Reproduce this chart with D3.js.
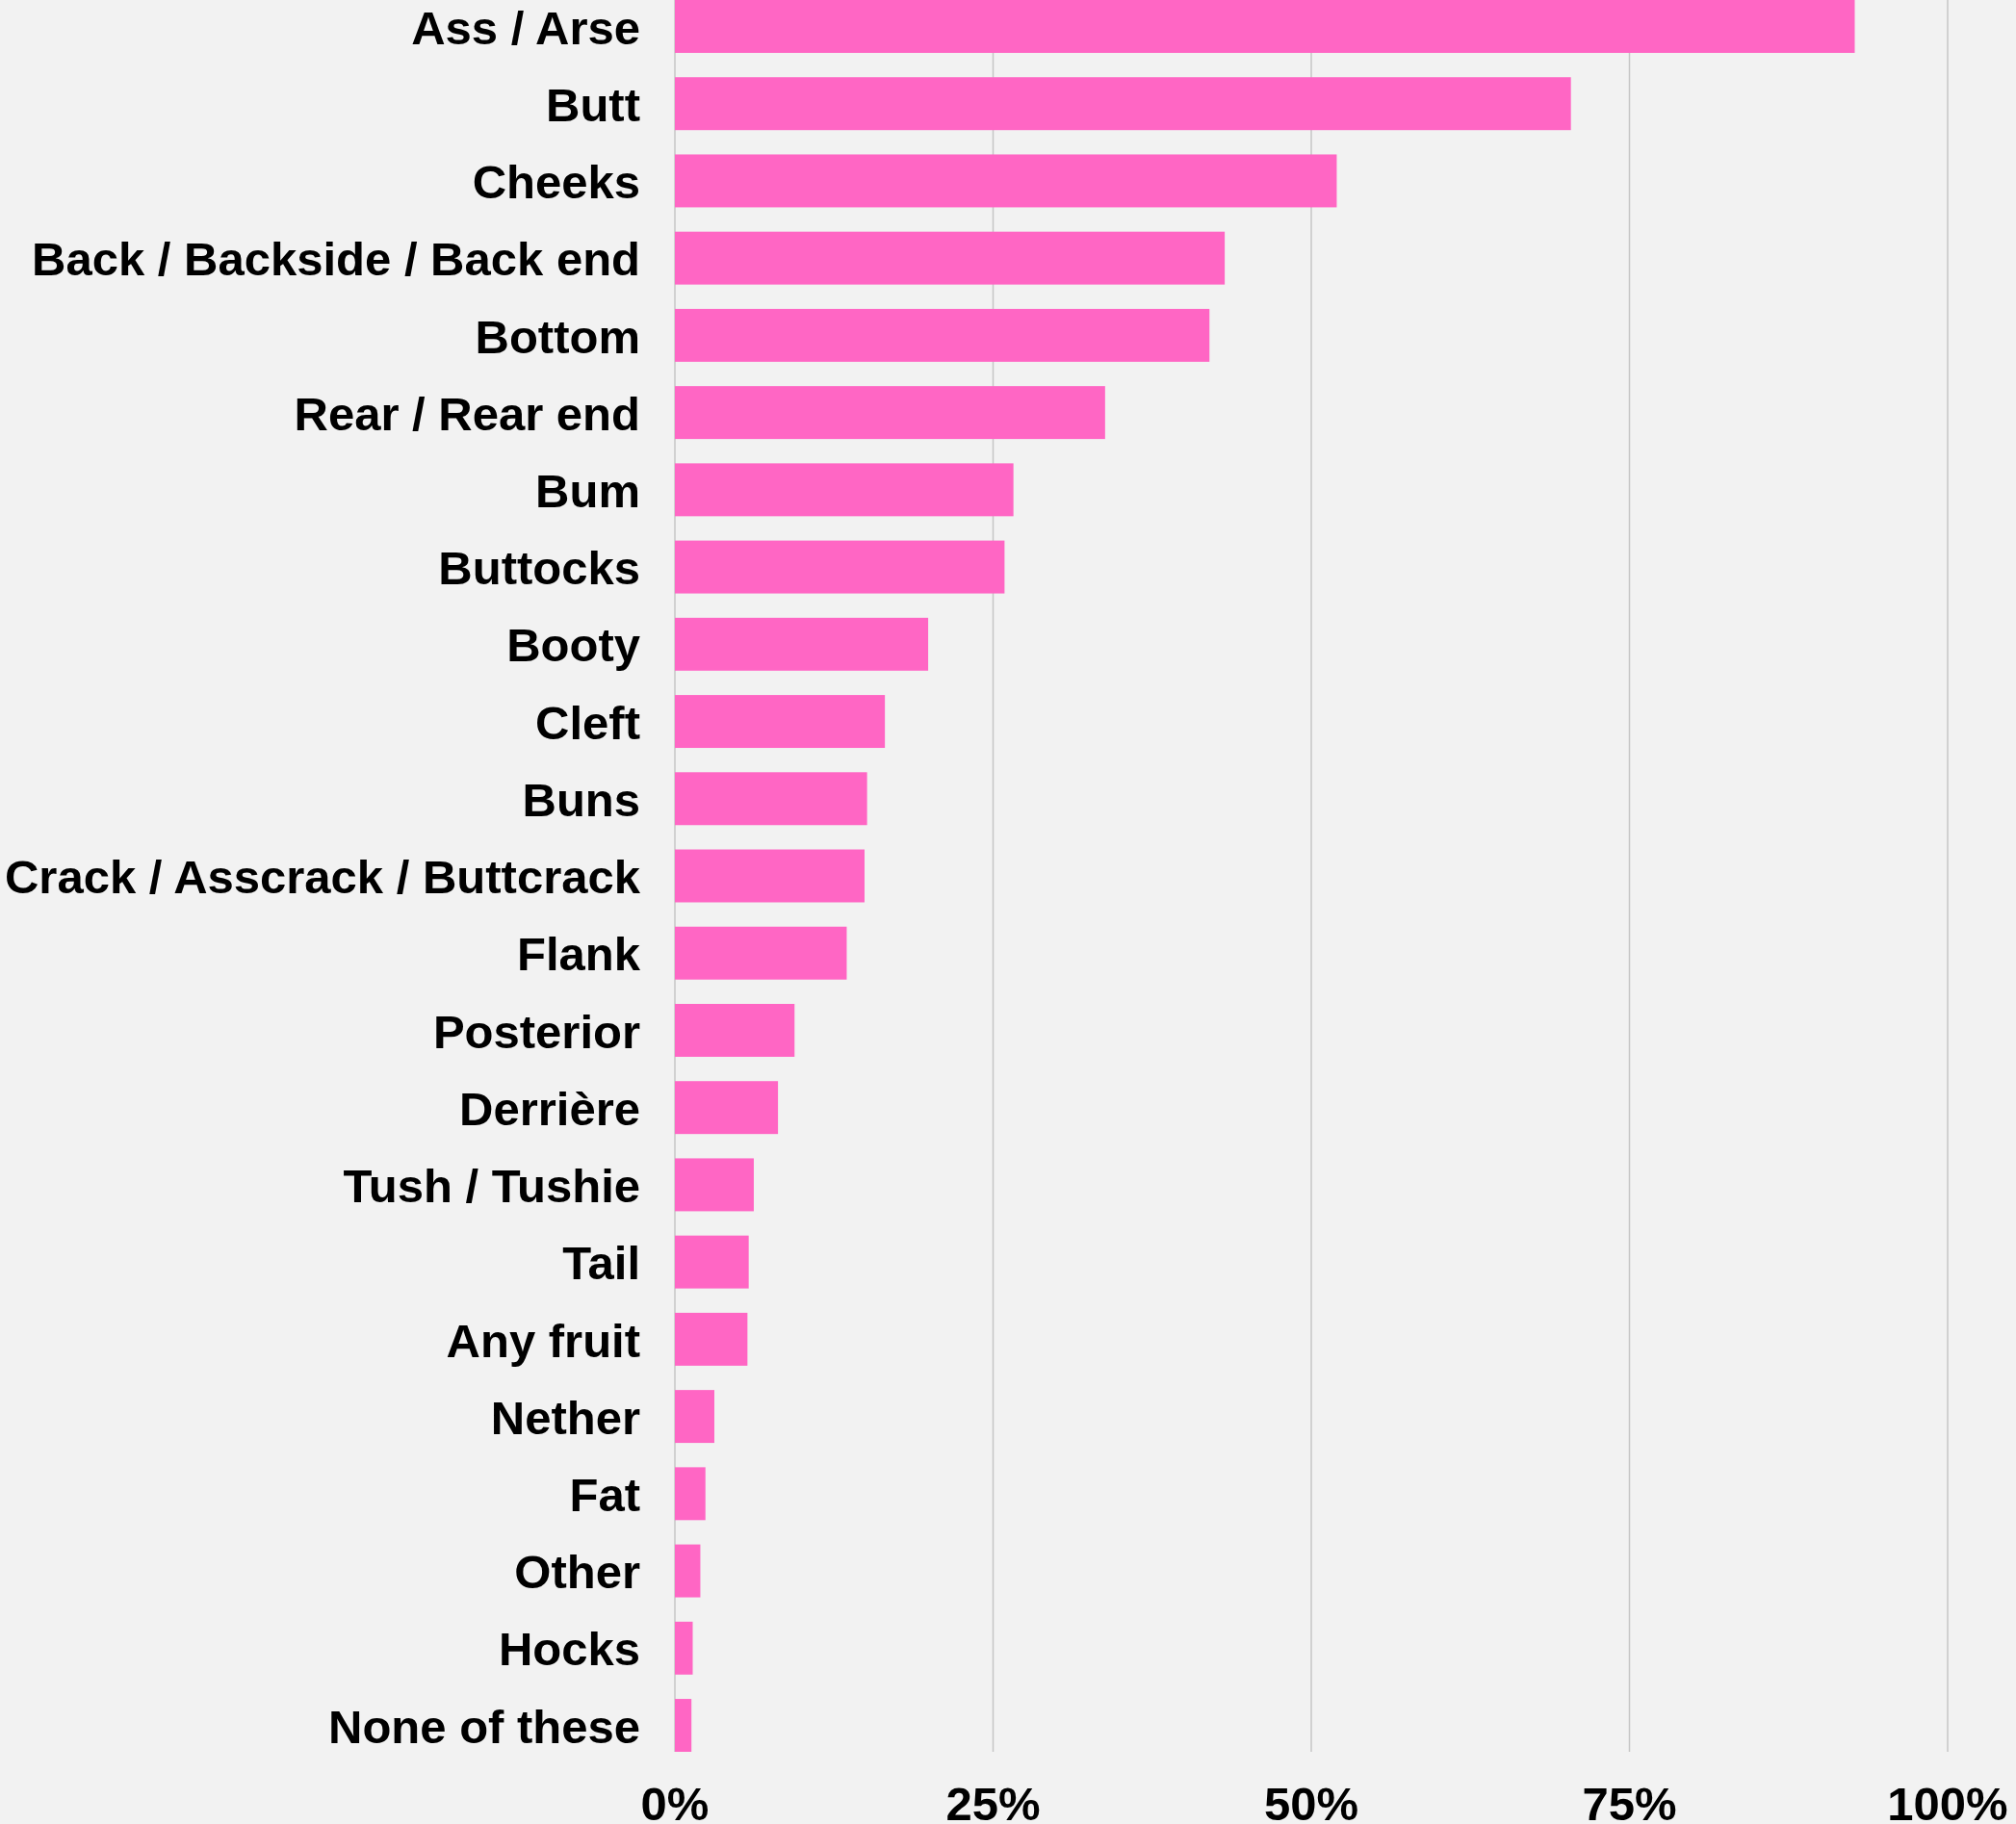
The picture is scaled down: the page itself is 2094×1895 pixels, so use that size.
<!DOCTYPE html>
<html>
<head>
<meta charset="utf-8">
<script src="https://cdn.jsdelivr.net/npm/d3@7"></script>
<style>
  html, body { margin: 0; padding: 0; background: #f2f2f2; }
  svg { display: block; }
  text { font-family: "Liberation Sans", Arial, sans-serif; font-weight: bold; fill: #000; }
</style>
</head>
<body>
<script>
const categories = [
  "Ass / Arse", "Butt", "Cheeks", "Back / Backside / Back end", "Bottom",
  "Rear / Rear end", "Bum", "Buttocks", "Booty", "Cleft", "Buns",
  "Crack / Asscrack / Buttcrack", "Flank", "Posterior", "Derrière",
  "Tush / Tushie", "Tail", "Any fruit", "Nether", "Fat", "Other", "Hocks",
  "None of these"
];
const values = [
  92.7, 70.4, 52.0, 43.2, 42.0, 33.8, 26.6, 25.9, 19.9, 16.5, 15.1,
  14.9, 13.5, 9.4, 8.1, 6.2, 5.8, 5.7, 3.1, 2.4, 2.0, 1.4, 1.3
];
const tickValues = [0, 25, 50, 75, 100];
const tickLabels = ["0%", "25%", "50%", "75%", "100%"];

const W = 2094, H = 1895;
const svg = d3.select("body").append("svg").attr("width", W).attr("height", H);
svg.append("rect").attr("width", W).attr("height", H).attr("fill", "#f2f2f2");

const x = d3.scaleLinear().domain([0, 100]).range([701, 2023]);
const y = d3.scaleBand().domain(categories).range([0, 1820]).paddingInner(0.315).paddingOuter(0);

// gridlines
svg.append("g").selectAll("line").data(tickValues).join("line")
  .attr("x1", d => x(d)).attr("x2", d => x(d))
  .attr("y1", 0).attr("y2", 1820)
  .attr("stroke", "#c6c6c6").attr("stroke-width", 1.5);

// bars
svg.append("g").selectAll("rect").data(values).join("rect")
  .attr("x", x(0))
  .attr("y", (d, i) => y(categories[i]))
  .attr("width", d => x(d) - x(0))
  .attr("height", y.bandwidth())
  .attr("fill", "#ff66c4");

// category labels
svg.append("g").selectAll("text").data(categories).join("text")
  .attr("x", x(0) - 36)
  .attr("y", d => y(d) + y.bandwidth() / 2)
  .attr("dy", "0.37em")
  .attr("text-anchor", "end")
  .attr("font-size", 49)
  .text(d => d);

// x tick labels
svg.append("g").selectAll("text").data(tickValues).join("text")
  .attr("x", d => x(d))
  .attr("y", 1891)
  .attr("text-anchor", "middle")
  .attr("font-size", 49)
  .text((d, i) => tickLabels[i]);
</script>
</body>
</html>
